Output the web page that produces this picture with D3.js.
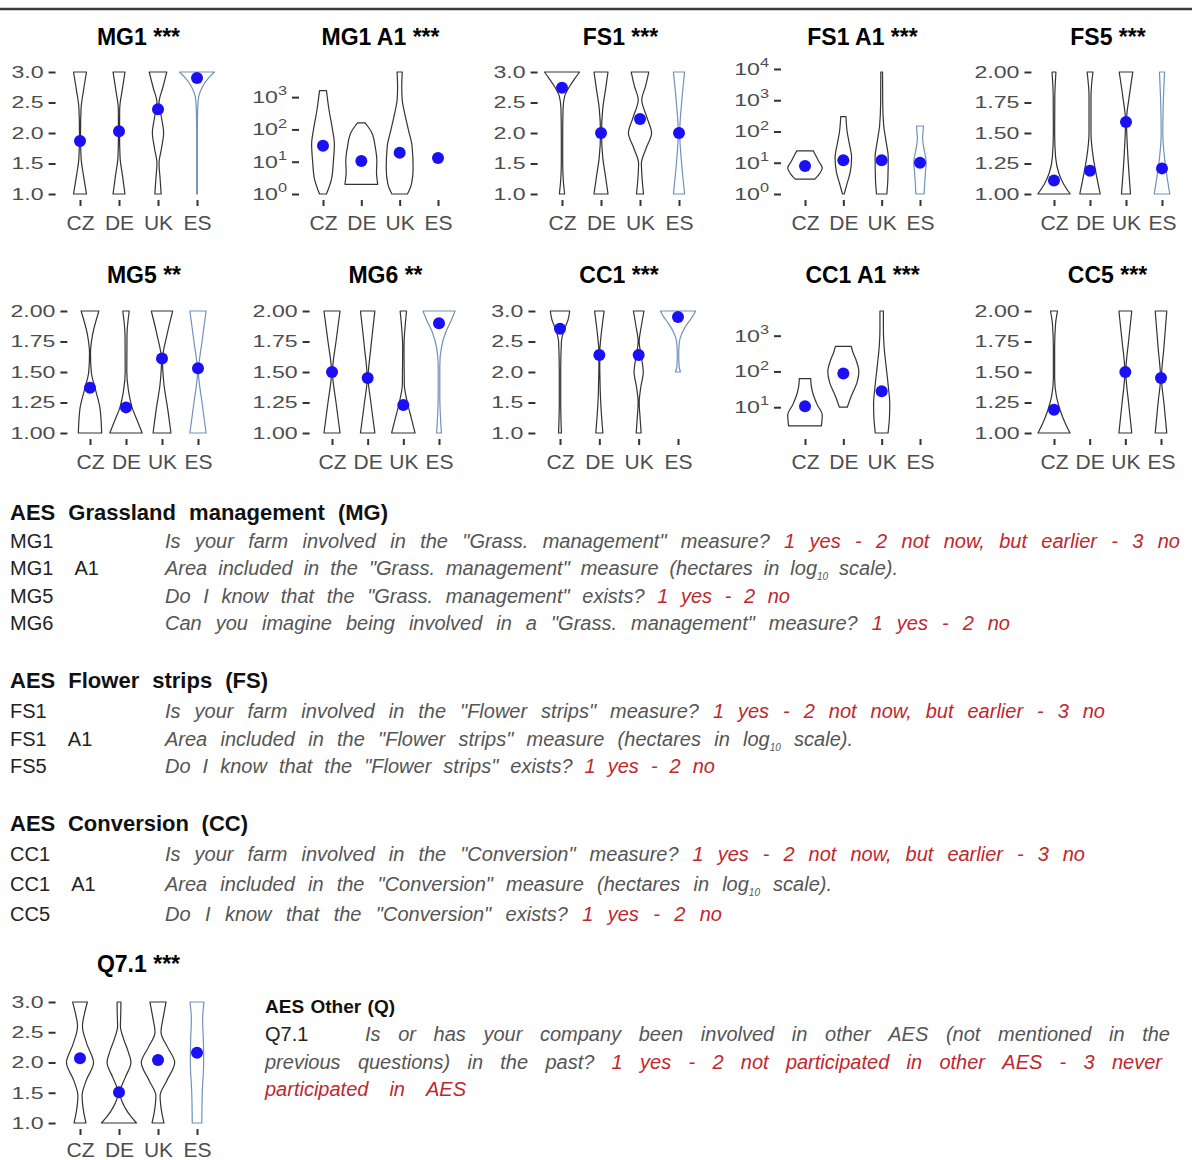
<!DOCTYPE html>
<html>
<head>
<meta charset="utf-8">
<script src="https://cdn.jsdelivr.net/npm/d3@7"></script>
<style>
  body { margin: 0; background: #fff; }
  svg { display: block; font-family: "Liberation Sans", Arial, Helvetica, sans-serif; }
</style>
</head>
<body>
<svg id="chart" width="1192" height="1160"></svg>
<script>
// ---- data --------------------------------------------------------------
const countries = ['CZ', 'DE', 'UK', 'ES'];

const ticks3 = [1, 1.5, 2, 2.5, 3];
const ticks2 = [1, 1.25, 1.5, 1.75, 2];

// violin outlines: [value, relative half width], one list per country (null = no violin)
const mg1Means = [1.87, 2.03, 2.39, 2.90];
const mg1Shapes = [
  [[1.0,0.37],[1.3,0.2],[1.6,0.06],[2.0,0.03],[2.4,0.06],[2.7,0.2],[3.0,0.37]],
  [[1.0,0.34],[1.3,0.2],[1.6,0.06],[2.0,0.03],[2.4,0.04],[2.7,0.18],[3.0,0.34]],
  [[1.0,0.18],[1.25,0.12],[1.5,0.06],[1.75,0.2],[2.0,0.32],[2.25,0.2],[2.5,0.06],[2.75,0.28],[3.0,0.5]],
  [[1.0,0.02],[2.0,0.02],[2.4,0.04],[2.6,0.1],[2.75,0.3],[2.9,0.65],[3.0,1.0]]
];

const mg1a1Means = [31, 10.5, 19, 13];
const mg1a1Shapes = [
  [[1,0.2],[3,0.5],[10,0.6],[35,0.66],[100,0.55],[400,0.35],[1600,0.2]],
  [[2,0.95],[5,0.88],[10,0.9],[30,0.8],[80,0.6],[130,0.35],[160,0.22]],
  [[1,0.45],[2,0.68],[6,0.78],[30,0.72],[100,0.5],[300,0.3],[800,0.15],[2000,0.12],[6000,0.15]],
  null
];

const fs1Means = [2.74, 2.0, 2.23, 2.0];
const fs1Shapes = [
  [[1.0,0.15],[1.2,0.08],[1.5,0.04],[2.0,0.04],[2.4,0.06],[2.6,0.15],[2.75,0.4],[2.9,0.75],[3.0,1.0]],
  [[1.0,0.4],[1.3,0.25],[1.6,0.1],[2.0,0.03],[2.4,0.1],[2.7,0.25],[3.0,0.4]],
  [[1.0,0.2],[1.25,0.12],[1.5,0.08],[1.75,0.35],[2.0,0.66],[2.25,0.4],[2.55,0.1],[2.75,0.3],[3.0,0.5]],
  [[1.0,0.32],[1.5,0.15],[2.0,0.04],[2.5,0.15],[3.0,0.32]]
];

const fs1a1Means = [7.9, 12, 12, 10];
const fs1a1Shapes = [
  [[3,0.57],[4.5,0.85],[6.8,1.0],[11,0.8],[18,0.6],[24,0.48]],
  [[1,0.05],[2,0.2],[5,0.4],[15,0.48],[40,0.35],[100,0.22],[300,0.15]],
  [[1,0.3],[3,0.36],[15,0.38],[50,0.25],[150,0.12],[800,0.06],[8000,0.05]],
  [[1,0.24],[4,0.3],[10,0.36],[30,0.22],[60,0.15],[100,0.18],[150,0.2]]
];

const fs5Means = [1.11, 1.19, 1.59, 1.21];
const fs5Shapes = [
  [[1.0,1.0],[1.08,0.6],[1.17,0.3],[1.3,0.1],[1.5,0.04],[1.8,0.05],[2.0,0.12]],
  [[1.0,0.63],[1.15,0.4],[1.3,0.2],[1.5,0.06],[1.8,0.06],[2.0,0.18]],
  [[1.0,0.28],[1.3,0.12],[1.6,0.03],[1.8,0.2],[2.0,0.42]],
  [[1.0,0.48],[1.15,0.3],[1.3,0.15],[1.5,0.05],[1.75,0.08],[2.0,0.16]]
];

const mg5Means = [1.37, 1.21, 1.61, 1.53];
const mg5Shapes = [
  [[1.0,0.72],[1.2,0.62],[1.35,0.35],[1.5,0.08],[1.65,0.03],[1.8,0.15],[2.0,0.55]],
  [[1.0,1.0],[1.1,0.7],[1.2,0.4],[1.35,0.15],[1.5,0.05],[1.8,0.06],[2.0,0.2]],
  [[1.0,0.55],[1.2,0.35],[1.4,0.12],[1.6,0.03],[1.8,0.3],[2.0,0.66]],
  [[1.0,0.5],[1.25,0.25],[1.5,0.03],[1.75,0.25],[2.0,0.5]]
];

const mg6Means = [1.5, 1.45, 1.23, 1.9];
const mg6Shapes = [
  [[1.0,0.5],[1.25,0.25],[1.5,0.03],[1.75,0.25],[2.0,0.5]],
  [[1.0,0.45],[1.25,0.2],[1.45,0.03],[1.7,0.2],[2.0,0.45]],
  [[1.0,0.73],[1.12,0.5],[1.25,0.25],[1.4,0.06],[1.7,0.04],[2.0,0.2]],
  [[1.0,0.15],[1.3,0.05],[1.55,0.05],[1.7,0.15],[1.82,0.4],[1.92,0.75],[2.0,1.0]]
];

const cc1Means = [2.71, 2.28, 2.28, 2.9];
const cc1Shapes = [
  [[1.0,0.08],[1.5,0.04],[2.0,0.04],[2.5,0.08],[2.7,0.25],[2.85,0.45],[3.0,0.55]],
  [[1.0,0.2],[1.3,0.12],[1.7,0.05],[2.3,0.02],[2.6,0.1],[3.0,0.27]],
  [[1.0,0.14],[1.25,0.08],[1.5,0.03],[1.75,0.12],[2.0,0.26],[2.25,0.15],[2.5,0.03],[2.75,0.15],[3.0,0.3]],
  [[2.0,0.14],[2.1,0.06],[2.3,0.04],[2.5,0.08],[2.65,0.25],[2.8,0.55],[2.9,0.8],[3.0,1.0]]
];

const cc1a1Means = [10.7, 88, 28, null];
const cc1a1Shapes = [
  [[3,0.95],[6,1.0],[12,0.7],[25,0.45],[40,0.36],[63,0.33]],
  [[10,0.23],[20,0.45],[50,0.8],[100,0.9],[200,0.75],[350,0.55],[500,0.46]],
  [[1.9,0.37],[5,0.45],[12,0.47],[40,0.38],[150,0.25],[500,0.14],[1500,0.1],[4900,0.1]],
  null
];

const cc5Means = [1.19, null, 1.5, 1.45];
const cc5Shapes = [
  [[1.0,1.0],[1.08,0.7],[1.18,0.4],[1.3,0.15],[1.45,0.04],[1.7,0.04],[1.9,0.1],[2.0,0.22]],
  null,
  [[1.0,0.4],[1.25,0.2],[1.5,0.03],[1.75,0.2],[2.0,0.4]],
  [[1.0,0.36],[1.25,0.18],[1.45,0.03],[1.7,0.18],[2.0,0.36]]
];

const q71Means = [2.07, 1.51, 2.04, 2.16];
const q71Shapes = [
  [[1.0,0.34],[1.2,0.2],[1.45,0.12],[1.7,0.35],[2.0,0.77],[2.3,0.4],[2.6,0.14],[2.8,0.25],[3.0,0.42]],
  [[1.0,1.0],[1.1,0.7],[1.25,0.35],[1.5,0.05],[1.75,0.35],[2.0,0.68],[2.2,0.5],[2.4,0.25],[2.6,0.08],[2.8,0.1],[3.0,0.11]],
  [[1.0,0.34],[1.2,0.2],[1.45,0.12],[1.7,0.5],[2.0,0.95],[2.25,0.55],[2.5,0.17],[2.75,0.3],[3.0,0.46]],
  [[1.0,0.27],[1.5,0.3],[2.0,0.38],[2.4,0.36],[2.7,0.32],[3.0,0.4]]
];

// description texts
const mgHeader = 'AES Grassland management (MG)';
const mgCodes = ['MG1', 'MG1 A1', 'MG5', 'MG6'];
const mgQuestions = [
  'Is your farm involved in the "Grass. management" measure?',
  'Area included in the "Grass. management" measure (hectares in log_10 scale).',
  'Do I know that the "Grass. management" exists?',
  'Can you imagine being involved in a "Grass. management" measure?'
];
const mgAnswers = ['1 yes - 2 not now, but earlier - 3 no', '', '1 yes - 2 no', '1 yes - 2 no'];

const fsHeader = 'AES Flower strips (FS)';
const fsCodes = ['FS1', 'FS1 A1', 'FS5'];
const fsQuestions = [
  'Is your farm involved in the "Flower strips" measure?',
  'Area included in the "Flower strips" measure (hectares in log_10 scale).',
  'Do I know that the "Flower strips" exists?'
];
const fsAnswers = ['1 yes - 2 not now, but earlier - 3 no', '', '1 yes - 2 no'];

const ccHeader = 'AES Conversion (CC)';
const ccCodes = ['CC1', 'CC1 A1', 'CC5'];
const ccQuestions = [
  'Is your farm involved in the "Conversion" measure?',
  'Area included in the "Conversion" measure (hectares in log_10 scale).',
  'Do I know that the "Conversion" exists?'
];
const ccAnswers = ['1 yes - 2 not now, but earlier - 3 no', '', '1 yes - 2 no'];

const qHeader = 'AES Other (Q)';
const qCode = 'Q7.1';
const qQuestion = 'Is or has your company been involved in other AES (not mentioned in the previous questions) in the past?';
const qAnswer = '1 yes - 2 not participated in other AES - 3 never participated in AES';

// ---- layout ------------------------------------------------------------
const ink = '#333333', esBlue = '#7191bb', dotBlue = '#1a0ff5',
      tickGray = '#4d4d4d', textGray = '#555555', red = '#c0272d';

const rows = [
  {top: 72,   bottom: 194,  titleY: 45},
  {top: 311,  bottom: 433,  titleY: 283},
  {top: 1002, bottom: 1123, titleY: 972}
];

const panels = [
  {title: 'MG1 ***',    shapes: mg1Shapes,   means: mg1Means,   log: false, domain: [1, 3],      ticks: ticks3, fmt: '.1f', x0: 56.6,   x1: 220.4,  row: 0},
  {title: 'MG1 A1 ***', shapes: mg1a1Shapes, means: mg1a1Means, log: true,  domain: [1, 6000],   ticks: [1, 10, 100, 1000], x0: 300, x1: 461, row: 0},
  {title: 'FS1 ***',    shapes: fs1Shapes,   means: fs1Means,   log: false, domain: [1, 3],      ticks: ticks3, fmt: '.1f', x0: 538.6,  x1: 702.4,  row: 0},
  {title: 'FS1 A1 ***', shapes: fs1a1Shapes, means: fs1a1Means, log: true,  domain: [1, 8000],   ticks: [1, 10, 100, 1000, 10000], x0: 782, x1: 943, row: 0},
  {title: 'FS5 ***',    shapes: fs5Shapes,   means: fs5Means,   log: false, domain: [1, 2],      ticks: ticks2, fmt: '.2f', x0: 1032.4, x1: 1183.6, row: 0},
  {title: 'MG5 **',     shapes: mg5Shapes,   means: mg5Means,   log: false, domain: [1, 2],      ticks: ticks2, fmt: '.2f', x0: 68.4,   x1: 219.6,  row: 1},
  {title: 'MG6 **',     shapes: mg6Shapes,   means: mg6Means,   log: false, domain: [1, 2],      ticks: ticks2, fmt: '.2f', x0: 310.6,  x1: 460.4,  row: 1},
  {title: 'CC1 ***',    shapes: cc1Shapes,   means: cc1Means,   log: false, domain: [1, 3],      ticks: ticks3, fmt: '.1f', x0: 536.4,  x1: 701.6,  row: 1},
  {title: 'CC1 A1 ***', shapes: cc1a1Shapes, means: cc1a1Means, log: true,  domain: [1.9, 4900], ticks: [10, 100, 1000], x0: 782, x1: 943, row: 1},
  {title: 'CC5 ***',    shapes: cc5Shapes,   means: cc5Means,   log: false, domain: [1, 2],      ticks: ticks2, fmt: '.2f', x0: 1032.6, x1: 1182.4, row: 1},
  {title: 'Q7.1 ***',   shapes: q71Shapes,   means: q71Means,   log: false, domain: [1, 3],      ticks: ticks3, fmt: '.1f', x0: 56.6,   x1: 220.4,  row: 2}
];

const svg = d3.select('#chart');

svg.append('line')
  .attr('x1', 0).attr('x2', 1192).attr('y1', 9).attr('y2', 9)
  .attr('stroke', '#3c3c3c').attr('stroke-width', 2.5);

// ---- violin panels -----------------------------------------------------
const labelStretch = 1.36;
const palette = [ink, ink, ink, esBlue];

function drawPanel(p){
  const row = rows[p.row];
  const g = svg.append('g');

  const x = d3.scalePoint().domain(countries).range([p.x0, p.x1]).padding(0.6);
  const y = (p.log ? d3.scaleLog() : d3.scaleLinear()).domain(p.domain).range([row.bottom, row.top]);
  const hw = x.step() * 0.45;

  g.append('text')
    .attr('x', (p.x0 + p.x1) / 2).attr('y', row.titleY)
    .attr('text-anchor', 'middle')
    .attr('font-size', 23).attr('font-weight', 'bold').attr('fill', '#000')
    .text(p.title);

  // y axis
  const ya = g.append('g')
    .attr('transform', `translate(${p.x0 - 1},0)`)
    .call(d3.axisLeft(y).tickValues(p.ticks).tickSize(7).tickPadding(5)
      .tickFormat(p.log ? () => '' : d3.format(p.fmt)));
  ya.select('.domain').remove();
  ya.selectAll('.tick line').attr('stroke', ink).attr('stroke-width', 2);
  ya.selectAll('.tick text')
    .attr('fill', tickGray).attr('font-size', 17)
    .attr('font-family', '"Liberation Sans", Arial, sans-serif')
    .attr('x', -12 / labelStretch)
    .attr('transform', `scale(${labelStretch},1)`);
  if (p.log){
    ya.selectAll('.tick text').each(function(d){
      const t = d3.select(this).text('10');
      t.append('tspan').attr('dy', '-0.65em').attr('font-size', 12).text(Math.round(Math.log10(d)));
    });
  }

  // x axis
  const xa = g.append('g')
    .attr('transform', `translate(0,${row.bottom + 6})`)
    .call(d3.axisBottom(x).tickSize(6).tickPadding(p.row === 2 ? 7 : 9));
  xa.select('.domain').remove();
  xa.selectAll('.tick line').attr('stroke', ink).attr('stroke-width', 2);
  xa.selectAll('.tick text')
    .attr('fill', tickGray).attr('font-size', 21)
    .attr('font-family', '"Liberation Sans", Arial, sans-serif');

  // violins
  const area = d3.area()
    .curve(d3.curveMonotoneY)
    .y(d => y(d[0]));

  let k = 0;
  p.shapes.forEach((shape, i) => {
    if (!shape) return;
    const color = palette[k++];
    const cx = x(countries[i]);
    g.append('path')
      .datum(shape)
      .attr('d', area.x0(d => cx - d[1] * hw).x1(d => cx + d[1] * hw))
      .attr('fill', 'none')
      .attr('stroke', color)
      .attr('stroke-width', 1.2)
      .attr('stroke-linejoin', 'round');
  });

  g.selectAll('circle.mean')
    .data(p.means.map((m, i) => ({m, c: countries[i]})).filter(d => d.m != null))
    .join('circle')
    .attr('class', 'mean')
    .attr('cx', d => x(d.c))
    .attr('cy', d => y(d.m))
    .attr('r', 6)
    .attr('fill', dotBlue);
}

panels.forEach(drawPanel);

// ---- description text --------------------------------------------------
const bodyFont = '"Liberation Sans", Arial, sans-serif';
const bodySize = 20;

function tokens(str, isRed){
  return str.split(' ').filter(s => s.length).map(t => ({t, red: isRed}));
}

function justify(toks, xStart, xEnd, yBase, opts = {}){
  const g = svg.append('g');
  const nodes = toks.map(tk => {
    const t = g.append('text')
      .attr('y', yBase)
      .attr('font-family', bodyFont)
      .attr('font-size', opts.size || bodySize)
      .attr('font-style', opts.bold ? 'normal' : 'italic')
      .attr('font-weight', opts.bold ? 'bold' : 'normal')
      .attr('fill', opts.bold ? '#111' : (tk.red ? red : textGray));
    if (tk.t === 'log_10'){
      t.text('log');
      t.append('tspan').attr('font-size', 10).attr('dy', 5).text('10');
    } else {
      t.text(tk.t);
    }
    return t;
  });
  const widths = nodes.map(n => n.node().getComputedTextLength());
  const gap = nodes.length > 1 ? (xEnd - xStart - d3.sum(widths)) / (nodes.length - 1) : 0;
  let cur = xStart;
  nodes.forEach((n, i) => { n.attr('x', cur); cur += widths[i] + gap; });
}

function codeLabel(code, xPos, yBase){
  svg.append('text')
    .attr('x', xPos).attr('y', yBase)
    .attr('font-family', bodyFont)
    .attr('font-size', bodySize)
    .attr('fill', '#222')
    .style('white-space', 'pre')
    .text(code.replace(' ', '    '));
}

function block(header, codes, questions, answers, headerBase, headerEnd, lineBases, lineEnds){
  justify(tokens(header), 10, headerEnd, headerBase, {bold: true, size: 22});
  codes.forEach((c, i) => {
    codeLabel(c, 10, lineBases[i]);
    justify(tokens(questions[i], false).concat(tokens(answers[i], true)), 165, lineEnds[i], lineBases[i]);
  });
}

block(mgHeader, mgCodes, mgQuestions, mgAnswers, 520, 388, [548, 575, 603, 630], [1180, 898, 790, 1010]);
block(fsHeader, fsCodes, fsQuestions, fsAnswers, 688, 268, [718, 746, 773], [1105, 853, 715]);
block(ccHeader, ccCodes, ccQuestions, ccAnswers, 831, 248, [861, 891, 921], [1085, 832, 722]);

// AES Other block, wrapped over three lines
const qToks = tokens(qQuestion, false).concat(tokens(qAnswer, true));
const qBreaks = [14, 31];
justify(tokens(qHeader), 265, 395, 1013, {bold: true, size: 19});
codeLabel(qCode, 265, 1041);
justify(qToks.slice(0, qBreaks[0]), 365, 1170, 1041);
justify(qToks.slice(qBreaks[0], qBreaks[1]), 265, 1162, 1069);
justify(qToks.slice(qBreaks[1]), 265, 466, 1096);
</script>
</body>
</html>
